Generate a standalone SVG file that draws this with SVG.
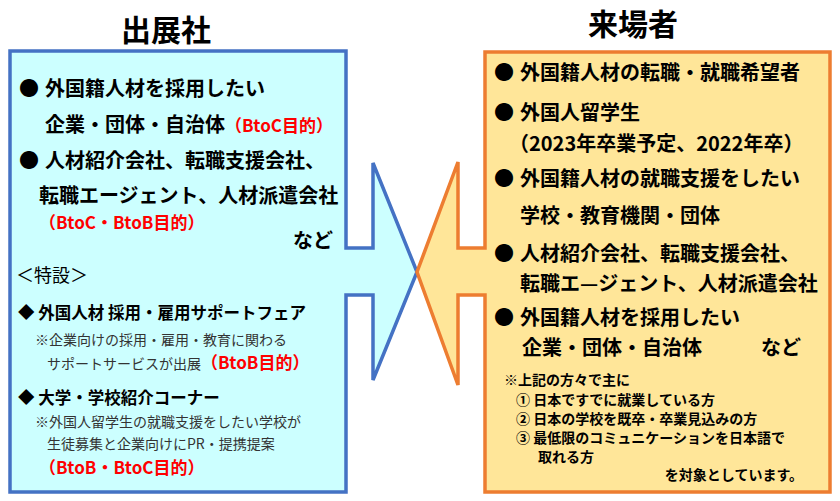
<svg xmlns="http://www.w3.org/2000/svg" width="840" height="501" viewBox="0 0 840 501">
<style>
text{font-family:"Noto Sans CJK JP","Noto Sans",sans-serif;fill:#000}
.t{font-size:30px;font-weight:bold;text-anchor:middle}
.m{font-size:20px;font-weight:bold}
.r{fill:#FF0000;font-weight:bold}
.n{font-size:14px;fill:#333}
.nb{font-size:14px;font-weight:bold}
.h{font-size:16.5px;font-weight:bold}
</style>
<rect width="840" height="501" fill="#fff"/>
<g id="exhibitors">
<path d="M10,51 H346 V248 H373 V163 L417,272 L373,380 V295 H346 V492 H10 Z" fill="#CCFFFF" stroke="#4472C4" stroke-width="3.5" stroke-linejoin="miter"/>
<text class="t" x="166" y="41">出展社</text>
<text class="m" x="19" y="95.5">●</text><text class="m" x="45" y="95.5">外国籍人材を採用したい</text>
<text class="m" x="45" y="131.5">企業・団体・自治体<tspan class="r" font-size="17px">（BtoC目的）</tspan></text>
<text class="m" x="19" y="167.5">●</text><text class="m" x="45" y="167.5">人材紹介会社、転職支援会社、</text>
<text class="m" x="39" y="202.5">転職エージェント、人材派遣会社</text>
<text class="r" x="39" y="229" font-size="17px">（BtoC・BtoB目的）</text>
<text class="m" x="333" y="247.5" text-anchor="end">など</text>
<text x="16" y="282" font-size="18px">＜特設＞</text>
<text class="h" x="18" y="319">◆ 外国人材 採用・雇用サポートフェア</text>
<text class="n" x="35" y="345.3">※企業向けの採用・雇用・教育に関わる</text>
<text class="n" x="47" y="368.5">サポートサービスが出展<tspan class="r" font-size="17px">（BtoB目的）</tspan></text>
<text class="h" x="18" y="403.5">◆ 大学・学校紹介コーナー</text>
<text class="n" x="35" y="427.3">※外国人留学生の就職支援をしたい学校が</text>
<text class="n" x="47" y="449.3">生徒募集と企業向けにPR・提携提案</text>
<text class="r" x="39" y="473.5" font-size="17px">（BtoB・BtoC目的）</text>
</g>
<g id="visitors">
<path d="M485,52 H830 V492 H485 V295 H458 V385 L417,272 L458,162 V248 H485 Z" fill="#FFE699" stroke="#ED7D31" stroke-width="3.5" stroke-linejoin="miter"/>
<text class="t" x="633" y="35">来場者</text>
<text class="m" x="494" y="79.5">●</text><text class="m" x="520" y="79.5">外国籍人材の転職・就職希望者</text>
<text class="m" x="494" y="119.5">●</text><text class="m" x="520" y="119.5">外国人留学生</text>
<text class="m" x="509" y="150.5">（2023年卒業予定、2022年卒）</text>
<text class="m" x="494" y="185.5">●</text><text class="m" x="520" y="185.5">外国籍人材の就職支援をしたい</text>
<text class="m" x="520" y="222.5">学校・教育機関・団体</text>
<text class="m" x="494" y="260.5">●</text><text class="m" x="520" y="260.5">人材紹介会社、転職支援会社、</text>
<text class="m" x="520" y="290.5">転職エ—ジェント、人材派遣会社</text>
<text class="m" x="494" y="324.5">●</text><text class="m" x="520" y="324.5">外国籍人材を採用したい</text>
<text class="m" x="522" y="354.5">企業・団体・自治体</text>
<text class="m" x="801" y="354.5" text-anchor="end">など</text>
<text class="nb" x="504" y="385.3">※上記の方々で主に</text>
<text class="nb" x="516" y="405.3">① 日本ですでに就業している方</text>
<text class="nb" x="516" y="424.3">② 日本の学校を既卒・卒業見込みの方</text>
<text class="nb" x="516" y="443.3">③ 最低限のコミュニケーションを日本語で</text>
<text class="nb" x="538" y="462.3">取れる方</text>
<text class="nb" x="803" y="480.3" text-anchor="end">を対象としています。</text>
</g>
<g id="connectors"/>
</svg>
